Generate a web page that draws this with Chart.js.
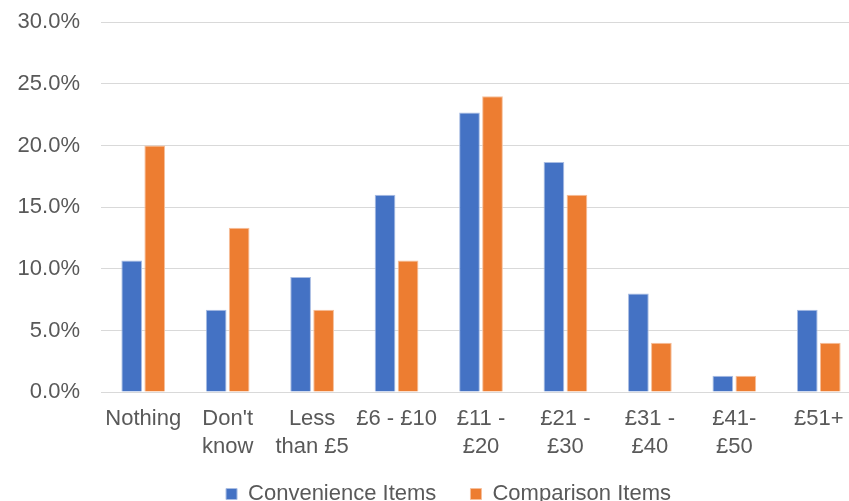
<!DOCTYPE html>
<html>
<head>
<meta charset="utf-8">
<script src="https://cdn.jsdelivr.net/npm/chart.js@4"></script>
<style>
  html, body { margin: 0; padding: 0; background: #fff; overflow: hidden; }
  #wrap { position: relative; width: 897px; height: 527px; margin-top: -12px; }
</style>
</head>
<body>
<div id="wrap"><canvas id="chartSpend"></canvas></div>
<script>
  // Spend bands (x axis)
  const bands = [
    "Nothing", ["Don't", "know"], ["Less", "than £5"], "£6 - £10",
    ["£11 -", "£20"], ["£21 -", "£30"], ["£31 -", "£40"], ["£41-", "£50"], "£51+"
  ];
  // Share of respondents, %
  const convenience = [10.67, 6.67, 9.33, 16.0, 22.67, 18.67, 8.0, 1.33, 6.67];
  const comparison  = [20.0, 13.33, 6.67, 10.67, 24.0, 16.0, 4.0, 1.33, 4.0];
  const yTicks = [0, 5, 10, 15, 20, 25, 30];

  const FONT = "'Liberation Sans', Arial, sans-serif";
  const gridGrey = "#d9d9d9";
  const textGrey = "#595959";

  // nudge the legend right so it sits centred on the whole figure
  const legendShift = {
    id: "legendShift",
    afterLayout(chart) {
      if (!chart.legend) return;
      chart.legend.left += 18;
      chart.legend.right += 18;
    }
  };

  new Chart(document.getElementById("chartSpend"), {
    type: "bar",
    data: {
      labels: bands,
      datasets: [
        { label: "Convenience Items", data: convenience, backgroundColor: "#4472c4", borderColor: "#a9bde3", borderWidth: 1 },
        { label: "Comparison Items", data: comparison, backgroundColor: "#ed7d31", borderColor: "#f6bf9a", borderWidth: 1 }
      ]
    },
    options: {
      responsive: true,
      maintainAspectRatio: false,
      animation: false,
      devicePixelRatio: 1,
      layout: { padding: { top: 0, right: 36, left: 0, bottom: 0 } },
      datasets: { bar: { categoryPercentage: 0.545, barPercentage: 0.9 } },
      plugins: {
        legend: {
          position: "bottom",
          labels: {
            color: textGrey,
            font: { family: FONT, size: 22 },
            boxWidth: 11, boxHeight: 11, padding: 17,
            // a bit more room after the first entry
            generateLabels: chart => {
              const items = Chart.defaults.plugins.legend.labels.generateLabels(chart);
              items[0].text += "\u2002 ";
              return items;
            }
          }
        },
        tooltip: { enabled: false }
      },
      scales: {
        x: {
          grid: { display: false },
          border: { color: gridGrey, width: 1 },
          ticks: {
            color: textGrey, maxRotation: 0, autoSkip: false, padding: 5,
            font: { family: FONT, size: 22, lineHeight: 1.27 }
          }
        },
        y: {
          min: 0, max: 30,
          afterBuildTicks: axis => { axis.ticks = yTicks.map(v => ({ value: v })); },
          afterFit: axis => { axis.width = 101; },
          grid: { color: gridGrey, lineWidth: 1, drawTicks: false },
          border: { display: false },
          ticks: {
            color: textGrey, padding: 21,
            font: { family: FONT, size: 22 },
            callback: v => v.toFixed(1) + "%"
          }
        }
      }
    },
    plugins: [legendShift]
  });
</script>
</body>
</html>
